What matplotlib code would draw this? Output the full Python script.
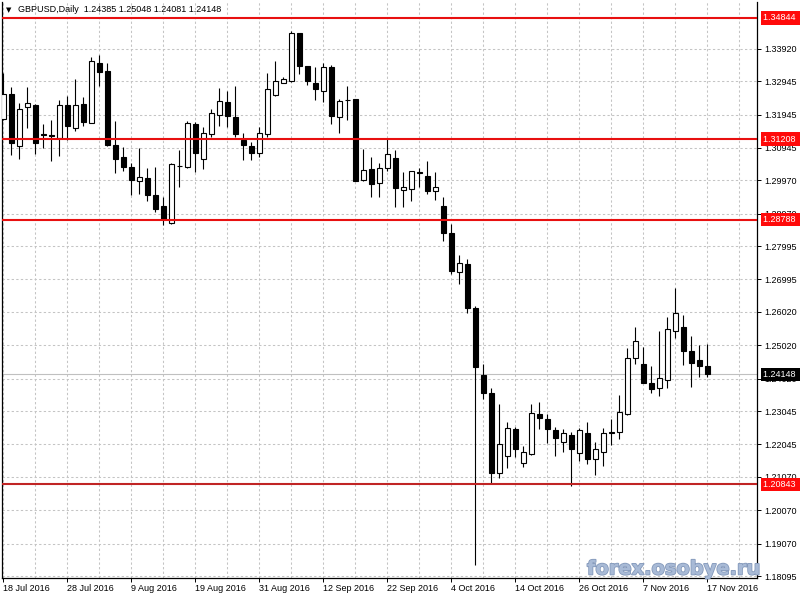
import numpy as np
import matplotlib
matplotlib.use('Agg')
import matplotlib.pyplot as plt
import matplotlib.transforms as mtrans
import matplotlib.patheffects as pe

# GBPUSD daily, 18 Jul 2016 .. 17 Nov 2016
opens = [1.3180, 1.3256, 1.3101, 1.3216, 1.3223, 1.3136, 1.3132, 1.3123, 1.3222, 1.3155,
         1.3226, 1.3170, 1.3350, 1.3325, 1.3103, 1.3068, 1.3038, 1.2996, 1.3004, 1.2954,
         1.2920, 1.2868, 1.3040, 1.3038, 1.3166, 1.3060, 1.3136, 1.3194, 1.3232, 1.3186,
         1.3118, 1.3100, 1.3080, 1.3136, 1.3252, 1.3290, 1.3294, 1.3438, 1.3340, 1.3288,
         1.3264, 1.3336, 1.3188, 1.3238, 1.3241, 1.2998, 1.3030, 1.2988, 1.3033, 1.3064,
         1.2968, 1.2970, 1.3021, 1.3010, 1.2964, 1.2920, 1.2838, 1.2721, 1.2745, 1.2613,
         1.2413, 1.2358, 1.2118, 1.2171, 1.2250, 1.2148, 1.2176, 1.2295, 1.2281, 1.2248,
         1.2213, 1.2233, 1.2180, 1.2238, 1.2160, 1.2183, 1.2241, 1.2241, 1.2296, 1.2463,
         1.2445, 1.2388, 1.2373, 1.2398, 1.2544, 1.2556, 1.2484, 1.2458, 1.24385]
highs = [1.3318, 1.3278, 1.3230, 1.3278, 1.3226, 1.3166, 1.3178, 1.3238, 1.3250, 1.3300,
         1.3248, 1.3366, 1.3373, 1.3348, 1.3176, 1.3096, 1.3048, 1.3095, 1.3033, 1.3038,
         1.2948, 1.3050, 1.3088, 1.3176, 1.3173, 1.3156, 1.3210, 1.3273, 1.3265, 1.3280,
         1.3138, 1.3112, 1.3158, 1.3318, 1.3354, 1.3306, 1.3446, 1.3440, 1.3341, 1.3336,
         1.3350, 1.3344, 1.3240, 1.3280, 1.3242, 1.3090, 1.3068, 1.3048, 1.3123, 1.3088,
         1.3023, 1.3026, 1.3033, 1.3056, 1.3023, 1.2948, 1.2865, 1.2773, 1.2761, 1.2620,
         1.2446, 1.2373, 1.2326, 1.2271, 1.2258, 1.2201, 1.2326, 1.2332, 1.2296, 1.2258,
         1.2251, 1.2243, 1.2253, 1.2271, 1.2213, 1.2253, 1.2281, 1.2353, 1.2493, 1.2556,
         1.2496, 1.2440, 1.2546, 1.2586, 1.2673, 1.2593, 1.2530, 1.2503, 1.25048]
lows = [1.3178, 1.3073, 1.3062, 1.3155, 1.3076, 1.3095, 1.3056, 1.3070, 1.3118, 1.3146,
        1.3160, 1.3169, 1.3281, 1.3100, 1.3020, 1.3026, 1.2953, 1.2956, 1.2935, 1.2903,
        1.2864, 1.2866, 1.2978, 1.3035, 1.3023, 1.3032, 1.3128, 1.3160, 1.3156, 1.3126,
        1.3058, 1.3058, 1.3066, 1.3126, 1.3251, 1.3288, 1.3293, 1.3316, 1.3284, 1.3238,
        1.3233, 1.3166, 1.3138, 1.3178, 1.2995, 1.2996, 1.2946, 1.2946, 1.3026, 1.2916,
        1.2916, 1.2936, 1.2978, 1.2956, 1.2938, 1.2816, 1.2716, 1.2685, 1.2600, 1.1843,
        1.2340, 1.2088, 1.2105, 1.2133, 1.2168, 1.2136, 1.2173, 1.2252, 1.2208, 1.2170,
        1.2183, 1.2080, 1.2156, 1.2146, 1.2113, 1.2140, 1.2203, 1.2220, 1.2293, 1.2446,
        1.2388, 1.2360, 1.2350, 1.2375, 1.2523, 1.2443, 1.2378, 1.2408, 1.24081]
closes = [1.3256, 1.3110, 1.3210, 1.3228, 1.3110, 1.3134, 1.3131, 1.3222, 1.3161, 1.3222,
          1.3173, 1.3354, 1.3323, 1.3103, 1.3062, 1.3038, 1.2998, 1.3007, 1.2954, 1.2912,
          1.2880, 1.3046, 1.3039, 1.3168, 1.3078, 1.3138, 1.3198, 1.3234, 1.3191, 1.3135,
          1.3104, 1.3080, 1.3138, 1.3270, 1.3294, 1.3302, 1.3440, 1.3341, 1.3296, 1.3270,
          1.3336, 1.3191, 1.3234, 1.3237, 1.2996, 1.3027, 1.2986, 1.3034, 1.3075, 1.2973,
          1.2976, 1.3024, 1.3019, 1.2966, 1.2976, 1.2838, 1.2726, 1.2748, 1.2615, 1.2438,
          1.2360, 1.2120, 1.2205, 1.2253, 1.2190, 1.2181, 1.2298, 1.2285, 1.2252, 1.2225,
          1.2238, 1.2190, 1.2248, 1.2160, 1.2190, 1.2238, 1.2239, 1.2301, 1.2463, 1.2516,
          1.2390, 1.2370, 1.2403, 1.2550, 1.2598, 1.2484, 1.2450, 1.2441, 1.24148]

date_labels = ['18 Jul 2016', '28 Jul 2016', '9 Aug 2016', '19 Aug 2016', '31 Aug 2016',
               '12 Sep 2016', '22 Sep 2016', '4 Oct 2016', '14 Oct 2016', '26 Oct 2016',
               '7 Nov 2016', '17 Nov 2016']
price_levels = [1.33920, 1.32945, 1.31945, 1.30945, 1.29970, 1.28970, 1.27995, 1.26995,
                1.26020, 1.25020, 1.24020, 1.23045, 1.22045, 1.21070, 1.20070, 1.19070,
                1.18095]
red_levels = [1.34844, 1.31208, 1.28788]
low_level = 1.20843
bid = 1.24148
header = 'GBPUSD,Daily  1.24385 1.25048 1.24081 1.24148'

FONT = ['Liberation Sans', 'DejaVu Sans']
FS = 6.5

opens = np.array(opens)
highs = np.array(highs)
lows = np.array(lows)
closes = np.array(closes)
x = np.arange(len(opens))
up = closes >= opens
bot = np.minimum(opens, closes)
hgt = np.abs(closes - opens)

fig = plt.figure(figsize=(8, 6), dpi=100)
ax = fig.add_axes([2 / 800, 22 / 600, 755 / 800, 576 / 600])

# grid
ax.set_xticks(np.arange(0, 95, 4), minor=True)
ax.set_xticks(np.arange(0, len(opens), 8))
ax.set_xticklabels(date_labels, fontsize=FS, family=FONT)
for lab in ax.get_xticklabels():
    lab.set_ha('left')
ax.set_yticks(price_levels)
ax.set_yticklabels([f'{v:.5f}' for v in price_levels], fontsize=FS, family=FONT)
ax.yaxis.tick_right()
ax.grid(True, which='both', color='#c4c4c4', lw=0.75, ls=(0, (2.2, 2.2)), zorder=0)
ax.set_axisbelow(True)
ax.tick_params(axis='x', which='major', length=3, width=0.7, pad=1.5, direction='out')
ax.tick_params(axis='x', which='minor', length=0)
ax.tick_params(axis='y', length=3, width=0.7, pad=2.5, direction='out')

# bid line
ax.axhline(bid, color='#c0c0c0', lw=0.8, zorder=1)

# candles
ax.vlines(x, lows, highs, color='black', lw=0.8, zorder=3)
ax.bar(x[up], hgt[up], bottom=bot[up], width=0.56, color='white',
       edgecolor='black', lw=0.8, zorder=4)
ax.bar(x[~up], hgt[~up], bottom=bot[~up], width=0.56, color='black',
       edgecolor='black', lw=0.8, zorder=4)

# horizontal levels
for lv in red_levels:
    ax.axhline(lv, color='#e81010', lw=1.5, zorder=5)
ax.axhline(low_level, color='#c02424', lw=1.5, zorder=5)

ax.set_xlim(-0.1625, 94.2)
ax.set_ylim(1.18035, 1.35322)
for s in ['left', 'bottom', 'right']:
    ax.spines[s].set_color('black')
    ax.spines[s].set_linewidth(0.9)
ax.spines['top'].set_visible(False)

# price boxes on the right scale
trans = mtrans.blended_transform_factory(fig.transFigure, ax.transData)
for lv in red_levels + [low_level]:
    ax.text(763 / 800, lv, f'{lv:.5f}  ', transform=trans, ha='left', va='center',
            color='white', fontsize=FS, family=FONT, clip_on=False, zorder=10,
            bbox=dict(boxstyle='square,pad=0.25', fc='#ff0a0a', ec='none'))
ax.text(763 / 800, bid, f'{bid:.5f}  ', transform=trans, ha='left', va='center',
        color='white', fontsize=FS, family=FONT, clip_on=False, zorder=10,
        bbox=dict(boxstyle='square,pad=0.25', fc='black', ec='none'))

# header
fig.text(6 / 800, 1 - 10 / 600, '\u25bc', fontsize=5, family='DejaVu Sans',
         ha='left', va='center', color='black')
fig.text(18 / 800, 1 - 9.5 / 600, header, fontsize=FS, family=FONT,
         ha='left', va='center', color='black')

# watermark
fig.text(587 / 800, 1 - 569 / 600, 'forex.osobye.ru', fontsize=14, fontweight='bold',
         family='DejaVu Sans', color='#a8bad6', ha='left', va='center', zorder=20,
         path_effects=[pe.withStroke(linewidth=1.2, foreground='#8499bb')])

fig.savefig('out.png', dpi=100)
